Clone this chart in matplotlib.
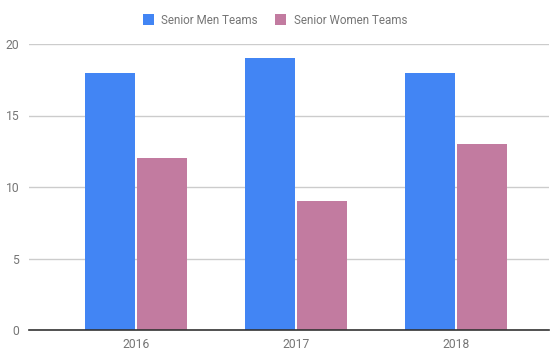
import matplotlib.pyplot as plt
import numpy as np

years = ['2016', '2017', '2018']
men = [18, 19, 18]
women = [12, 9, 13]

plt.rcParams['font.family'] = ['Roboto', 'DejaVu Sans']

fig = plt.figure(figsize=(5.5, 3.58), dpi=100)
ax = fig.add_axes([29 / 550, 1 - 330 / 358, 520 / 550, (330 - 44) / 358])

x = np.arange(len(years))
w = 0.318
ax.bar(x - 0.1625, men, w, color='#4285F4', label='Senior Men Teams', zorder=3)
ax.bar(x + 0.1625, women, w, color='#C27BA0', label='Senior Women Teams', zorder=3)

ax.set_xlim((29 - 136) / 160, (549 - 136) / 160)
ax.set_ylim(0, 20)
ax.set_yticks([0, 5, 10, 15, 20])
ax.set_xticks(x)
ax.set_xticklabels(years)

ax.grid(axis='y', color='#cccccc', linewidth=1, zorder=0)
for s in ['top', 'right', 'left']:
    ax.spines[s].set_visible(False)
ax.spines['bottom'].set_color('#333333')
ax.spines['bottom'].set_linewidth(1.2)
ax.spines['bottom'].set_zorder(4)
ax.tick_params(axis='both', length=0, colors='#757575', labelsize=8.7)
ax.tick_params(axis='y', pad=7)
ax.tick_params(axis='x', pad=6)

fig.legend(loc='center', bbox_to_anchor=(0.5, 1 - 20 / 358), ncol=2, frameon=False,
           handlelength=0.95, handleheight=0.95, handletextpad=0.65, columnspacing=1.5,
           fontsize=8.4, labelcolor='#757575')

fig.savefig('out.png', dpi=100)
